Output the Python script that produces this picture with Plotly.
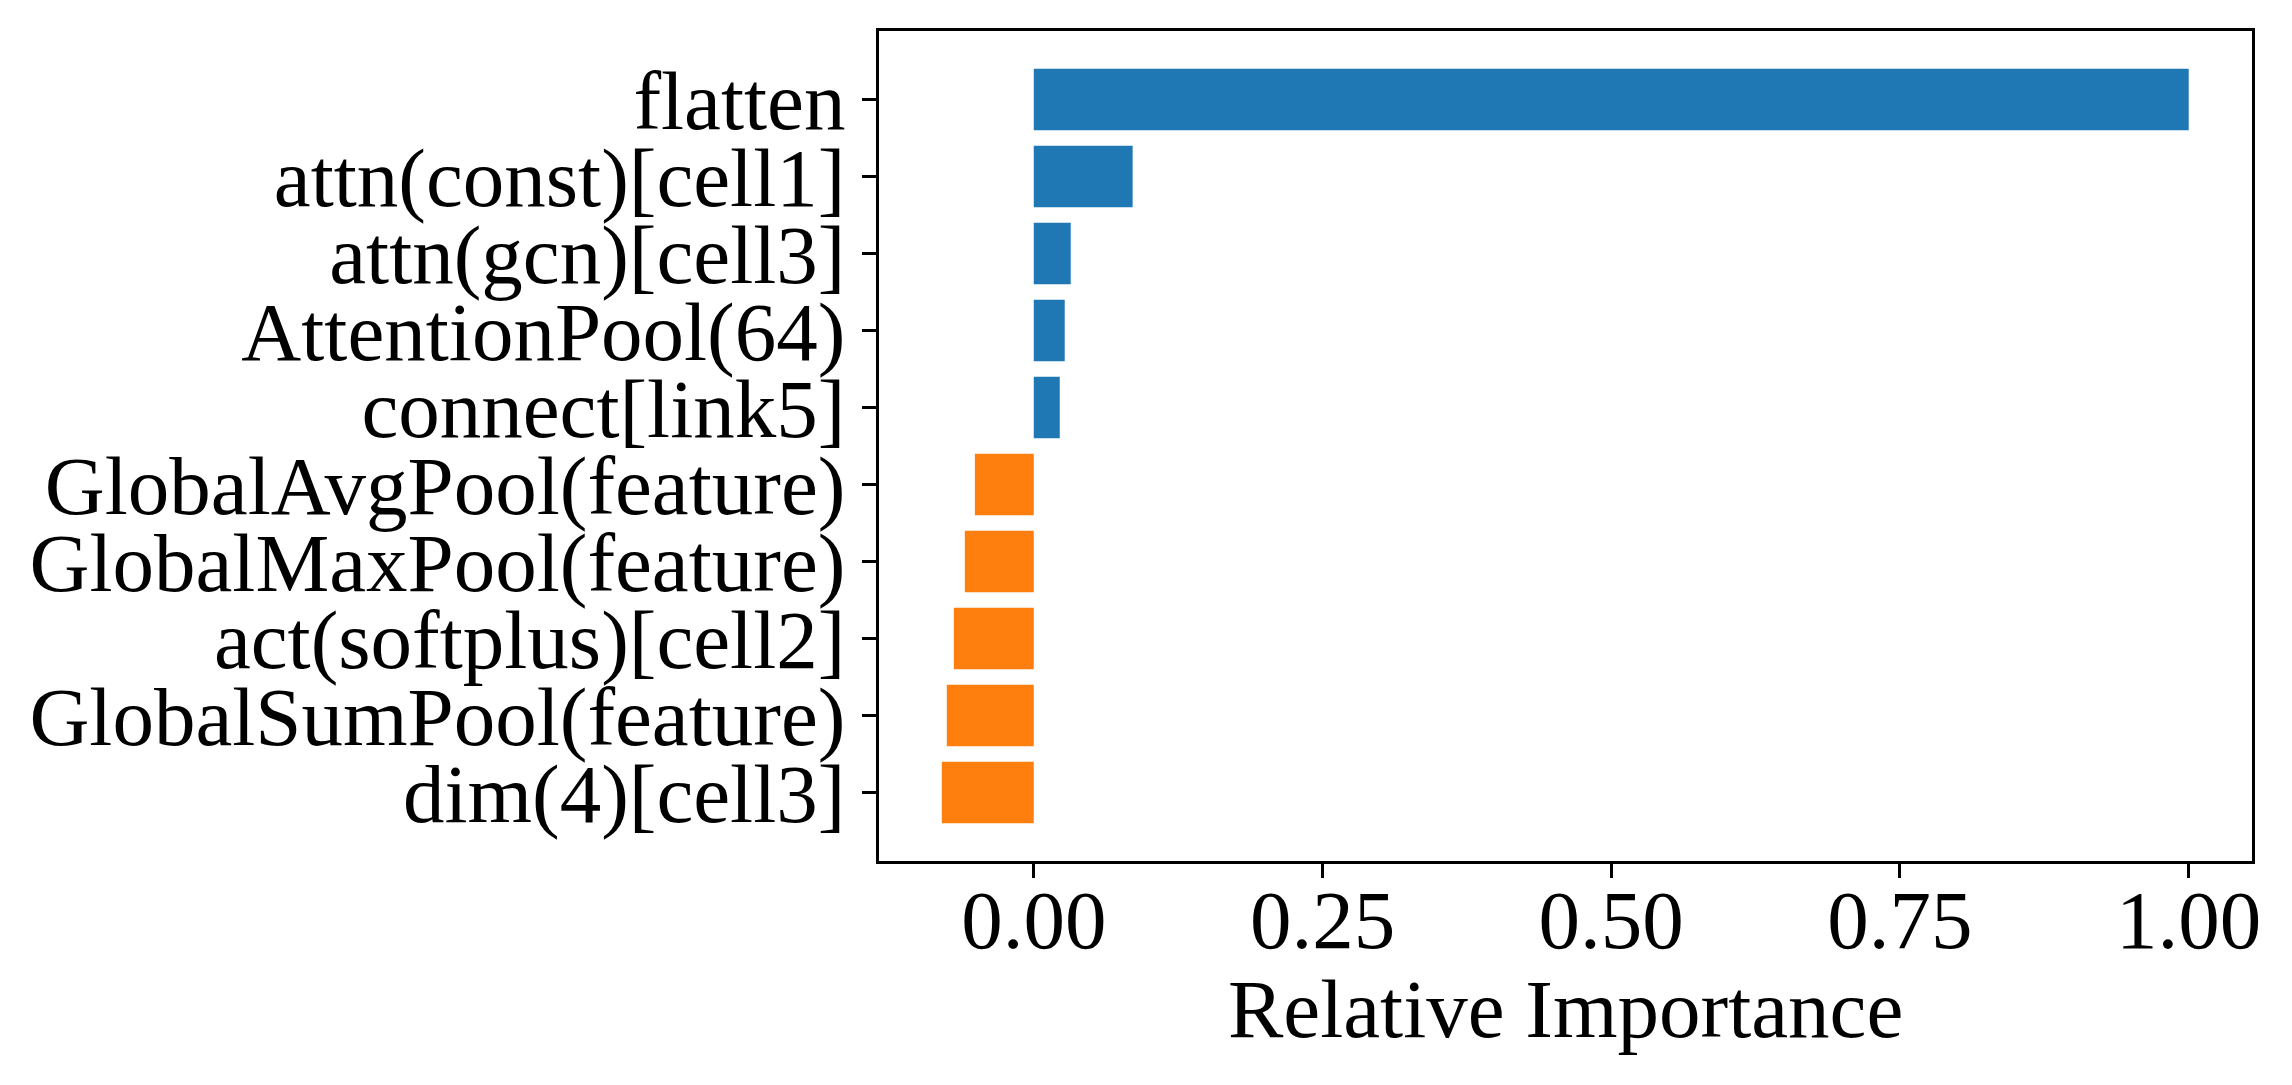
import plotly.graph_objects as go

features = [
    "flatten",
    "attn(const)[cell1]",
    "attn(gcn)[cell3]",
    "AttentionPool(64)",
    "connect[link5]",
    "GlobalAvgPool(feature)",
    "GlobalMaxPool(feature)",
    "act(softplus)[cell2]",
    "GlobalSumPool(feature)",
    "dim(4)[cell3]",
]
importance = [1.0, 0.0856, 0.032, 0.0268, 0.0225, -0.051, -0.0597, -0.0692, -0.0753, -0.0796]
x_ticks = [0.0, 0.25, 0.5, 0.75, 1.0]
x_tick_labels = ["0.00", "0.25", "0.50", "0.75", "1.00"]
x_title = "Relative Importance"

POS_COLOR = "#1f77b4"
NEG_COLOR = "#ff7f0e"
colors = [POS_COLOR if v >= 0 else NEG_COLOR for v in importance]

FONT = "Liberation Serif"
FS = 83

fig = go.Figure(
    go.Bar(
        x=importance,
        y=features,
        orientation="h",
        width=0.8,
        marker=dict(color=colors, line=dict(width=0)),
    )
)

axis_common = dict(
    showline=True,
    mirror=True,
    linecolor="black",
    linewidth=3,
    ticks="outside",
    ticklen=14,
    tickwidth=3,
    tickcolor="black",
    showgrid=False,
    zeroline=False,
    automargin=False,
    tickfont=dict(family=FONT, size=FS, color="black"),
)

fig.update_layout(
    width=2284,
    height=1077,
    margin=dict(l=871, r=40, t=23, b=224),
    paper_bgcolor="white",
    plot_bgcolor="white",
    showlegend=False,
    xaxis=dict(
        range=[-0.134, 1.0548],
        tickmode="array",
        tickvals=x_ticks,
        ticktext=x_tick_labels,
        ticklabelstandoff=-30,
        **axis_common,
    ),
    yaxis=dict(
        type="category",
        categoryorder="array",
        categoryarray=features,
        tickmode="array",
        tickvals=features,
        range=[9.89, -0.89],
        **axis_common,
    ),
    annotations=[
        dict(
            text=x_title,
            xref="paper",
            yref="paper",
            x=0.5,
            y=0,
            xanchor="center",
            yanchor="top",
            yshift=-100,
            showarrow=False,
            font=dict(family=FONT, size=FS, color="black"),
        )
    ],
)

fig.write_html("out.html")
